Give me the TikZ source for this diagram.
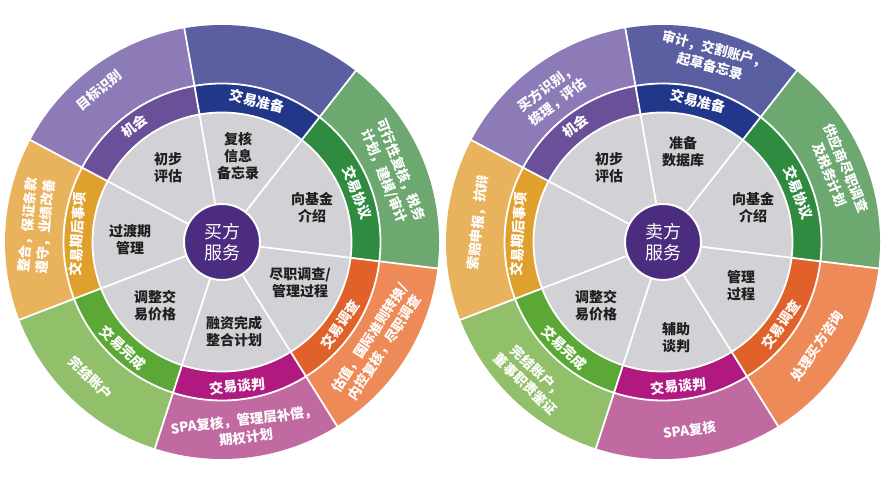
\documentclass[tikz,border=0pt]{standalone}
\usepackage{fontspec}
\setmainfont{Noto Sans CJK SC}
\definecolor{oPur}{HTML}{8D7BB8}
\definecolor{bPur}{HTML}{6A5099}
\definecolor{oBlu}{HTML}{5A5FA2}
\definecolor{bBlu}{HTML}{22378A}
\definecolor{oGrn}{HTML}{6CA870}
\definecolor{bGrn}{HTML}{2E8B40}
\definecolor{oOra}{HTML}{EE8A58}
\definecolor{bOra}{HTML}{E0612A}
\definecolor{oMag}{HTML}{C06AA1}
\definecolor{bMag}{HTML}{B0197F}
\definecolor{oLgr}{HTML}{92BF6A}
\definecolor{bLgr}{HTML}{5CA836}
\definecolor{oYel}{HTML}{E9B35D}
\definecolor{bYel}{HTML}{E0A02E}
\definecolor{grayc}{HTML}{D2D2D6}
\definecolor{cenc}{HTML}{4B2C7E}
\newcommand\ringseg[5]{\fill[#5] (#1:#4) arc[start angle=#1,end angle=#2,radius=#4] -- (#2:#3) arc[start angle=#2,end angle=#1,radius=#3] -- cycle;}
\newcommand\mywheel{%
  \ringseg{100}{152}{158pt}{217pt}{oPur}\ringseg{100}{152}{129pt}{158pt}{bPur}%
  \ringseg{52}{100}{158pt}{217pt}{oBlu}\ringseg{52}{100}{129pt}{158pt}{bBlu}%
  \ringseg{-7}{52}{158pt}{217pt}{oGrn}\ringseg{-7}{52}{129pt}{158pt}{bGrn}%
  \ringseg{-58}{-7}{158pt}{217pt}{oOra}\ringseg{-58}{-7}{129pt}{158pt}{bOra}%
  \ringseg{-108}{-58}{158pt}{217pt}{oMag}\ringseg{-108}{-58}{129pt}{158pt}{bMag}%
  \ringseg{-159}{-108}{158pt}{217pt}{oLgr}\ringseg{-159}{-108}{129pt}{158pt}{bLgr}%
  \ringseg{-208}{-159}{158pt}{217pt}{oYel}\ringseg{-208}{-159}{129pt}{158pt}{bYel}%
  \fill[grayc] (0,0) circle (129pt);
  \foreach \a in {100,52,-7,-58,-108,-159,152} \draw[sepl] (\a:38pt) -- (\a:218pt);
  \draw[sepl] (0,0) circle (129.5pt) (0,0) circle (158.5pt);
  \fill[cenc] (0,0) circle (38pt);
  \draw[white, line width=2pt] (0,0) circle (38pt);
}
\tikzset{
  sepl/.style={white, line width=1.8pt},
  wl/.style={text=white, font=\bfseries\fontsize{13.5}{17.5}\selectfont, align=center, inner sep=0pt},
  bl/.style={text=white, font=\bfseries\fontsize{14}{16}\selectfont, align=center, inner sep=0pt},
  gl/.style={text=black!88, font=\bfseries\fontsize{14}{17}\selectfont, align=center, inner sep=0pt},
  cl/.style={text=white, font=\fontsize{18}{21}\selectfont, align=center, inner sep=0pt}
}
\begin{document}
\begin{tikzpicture}[x=1pt,y=1pt]
\useasboundingbox (0,0) rectangle (885,478);
\fill[white] (0,0) rectangle (885,478);
% ---------- left wheel ----------
\begin{scope}[shift={(222,236)}]
  \mywheel
  \node[cl] (Lc) at (0,0) {买方\\服务};
  \node[bl, rotate=37] (Lb1) at (127:145pt) {机会};
  \node[bl, rotate=-14] (Lb2) at (76:145pt) {交易准备};
  \node[bl, rotate=-70] (Lb3) at (20:144pt) {交易协议};
  \node[bl, rotate=55] (Lb4) at (-35:144pt) {交易调查};
  \node[bl, rotate=6] (Lb5) at (-84:145pt) {交易谈判};
  \node[bl, rotate=-43] (Lb6) at (-133:145pt) {交易完成};
  \node[bl, rotate=87] (Lb7) at (177:145pt) {交易期后事项};
  \node[wl, rotate=39] (Lo1) at (129:195pt) {目标识别};
  \node[wl, rotate=-68] (Lo3) at (22:184pt) {可行性复核，税务\\计划，建模/审计};
  \node[wl, rotate=57] (Lo4) at (-33:185pt) {估值，国际准则转换/\\内控复核，尽职调查};
  \node[wl, rotate=7] (Lo5) at (-83:188pt) {SPA复核，管理层补偿，\\期权计划};
  \node[wl, rotate=-44] (Lo6) at (-134:189pt) {完结账户};
  \node[wl, rotate=85] (Lo7) at (175:186pt) {整合，保证条款\\遵守，业绩改善};
\end{scope}
\node[gl] (Lg1) at (168,310) {初步\\评估};
\node[gl] (Lg2) at (238,322) {复核\\信息\\备忘录};
\node[gl] (Lg3) at (312,270) {向基金\\介绍};
\node[gl] (Lg4) at (130,238) {过渡期\\管理};
\node[gl] (Lg5) at (300,195) {尽职调查/\\管理过程};
\node[gl] (Lg6) at (155,172) {调整交\\易价格};
\node[gl] (Lg7) at (234,146) {融资完成\\整合计划};
% ---------- right wheel ----------
\begin{scope}[shift={(663,236)}]
  \mywheel
  \node[cl] (Rc) at (0,0) {卖方\\服务};
  \node[bl, rotate=37] (Rb1) at (127:145pt) {机会};
  \node[bl, rotate=-14] (Rb2) at (76:145pt) {交易准备};
  \node[bl, rotate=-70] (Rb3) at (20:144pt) {交易协议};
  \node[bl, rotate=55] (Rb4) at (-35:144pt) {交易调查};
  \node[bl, rotate=6] (Rb5) at (-84:145pt) {交易谈判};
  \node[bl, rotate=-43] (Rb6) at (-133:145pt) {交易完成};
  \node[bl, rotate=87] (Rb7) at (177:145pt) {交易期后事项};
  \node[wl, rotate=37] (Ro1) at (127:184pt) {买方识别，\\梳理，评估};
  \node[wl, rotate=-15] (Ro2) at (75:191pt) {审计，交割账户，\\起草备忘录};
  \node[wl, rotate=-68] (Ro3) at (22:189pt) {供应商尽职调查\\及税务计划};
  \node[wl, rotate=56] (Ro4) at (-34:186pt) {处理买方咨询};
  \node[wl, rotate=8] (Ro5) at (-82:190pt) {SPA复核};
  \node[wl, rotate=-44] (Ro6) at (-134:189pt) {完结账户，\\董事职责鉴证};
  \node[wl, rotate=84] (Ro7) at (174:186pt) {索赔申报，抗辩};
\end{scope}
\node[gl] (Rg1) at (609,310) {初步\\评估};
\node[gl] (Rg2) at (683,326) {准备\\数据库};
\node[gl] (Rg3) at (753,270) {向基金\\介绍};
\node[gl] (Rg5) at (741,192) {管理\\过程};
\node[gl] (Rg6) at (596,172) {调整交\\易价格};
\node[gl] (Rg7) at (676,140) {辅助\\谈判};
\end{tikzpicture}
\end{document}
